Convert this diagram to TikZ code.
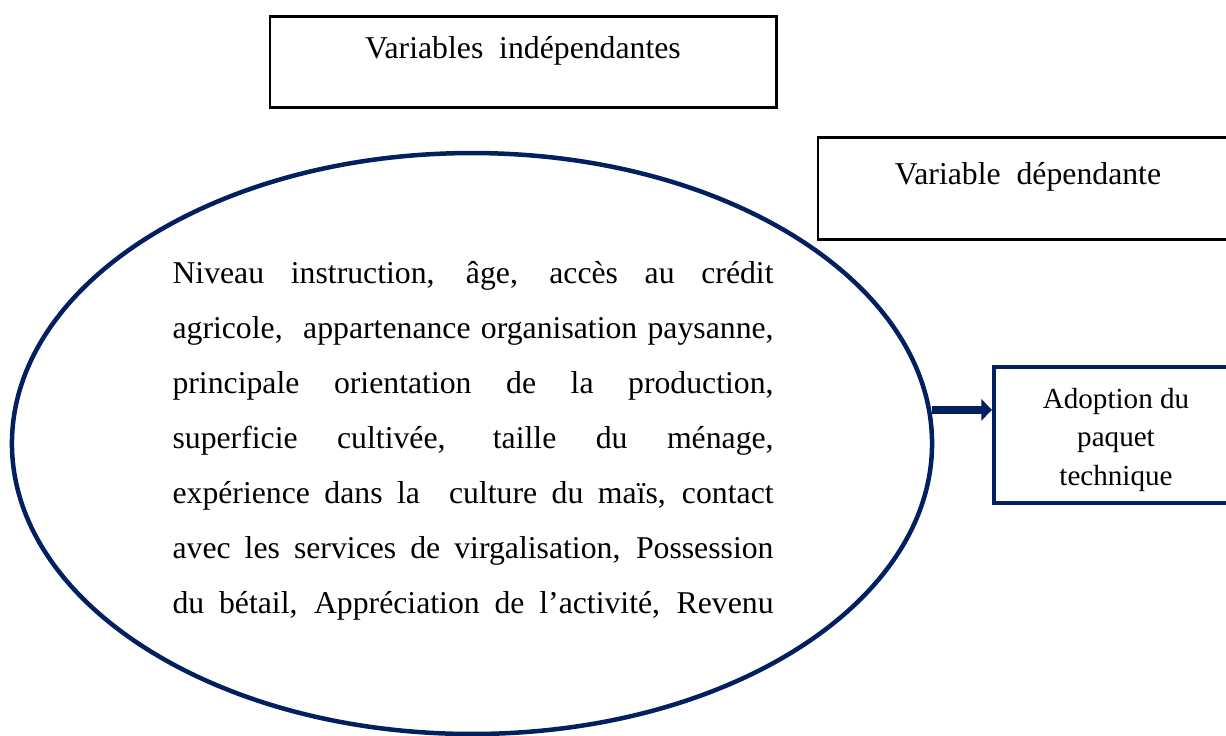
\documentclass[tikz,border=0pt]{standalone}
\usepackage{fontspec}
\setmainfont{Liberation Serif}
\usetikzlibrary{shapes.geometric,arrows.meta}
\definecolor{navy}{RGB}{0,32,96}

\begin{document}
\begin{tikzpicture}[x=0.378pt, y=-0.378pt,
    titlebox/.style={draw, line width=1.1pt, inner sep=0pt, anchor=north, font=\fontsize{12}{14}\selectfont},
    flow/.style={navy, line width=3pt, -{Triangle[length=4pt 0, width=8pt 0]}}]
  \useasboundingbox (0,0) rectangle (1226,735); \clip (0,0) rectangle (1226,735);
  \node[titlebox, minimum width=191.3pt, text height=15.9pt, text depth=18.5pt] (indep) at (523,15) {Variables\ \ indépendantes};
  \node[titlebox, minimum width=158.8pt, text height=17.8pt, text depth=20.8pt] (dep) at (1028,136) {Variable\ \ dépendante};
  \node[draw=navy, line width=1.7pt, ellipse, minimum width=347.8pt, minimum height=219.6pt, inner sep=0pt, outer sep=0pt] (ell) at (472,443.5) {};
  \node[anchor=north west, inner sep=0pt, align=left, font=\fontsize{12}{20.8}\selectfont] (facteurs) at (172,261) {%
    \makebox[227.2pt][s]{Niveau instruction, âge, accès au crédit}\\
    \makebox[227.2pt][s]{agricole,\ \ appartenance organisation paysanne,}\\
    \makebox[227.2pt][s]{principale orientation de la production,}\\
    \makebox[227.2pt][s]{superficie cultivée, taille du ménage,}\\
    \makebox[227.2pt][s]{expérience dans la\ \ culture du maïs, contact}\\
    \makebox[227.2pt][s]{avec les services de virgalisation, Possession}\\
    \makebox[227.2pt][s]{du bétail, Appréciation de l’activité, Revenu}};
  \node[draw=navy, line width=1.6pt, minimum width=92.2pt, minimum height=51.4pt, inner sep=0pt, align=center, font=\fontsize{11}{14.6}\selectfont] (adopt) at (1116,435) {\rule{0pt}{11.3pt}Adoption du\\paquet\\technique};
  \coordinate (tip) at ([yshift=9.5pt]adopt.west);
  \draw[flow] (ell.east |- tip) -- (tip);
\end{tikzpicture}
\end{document}
